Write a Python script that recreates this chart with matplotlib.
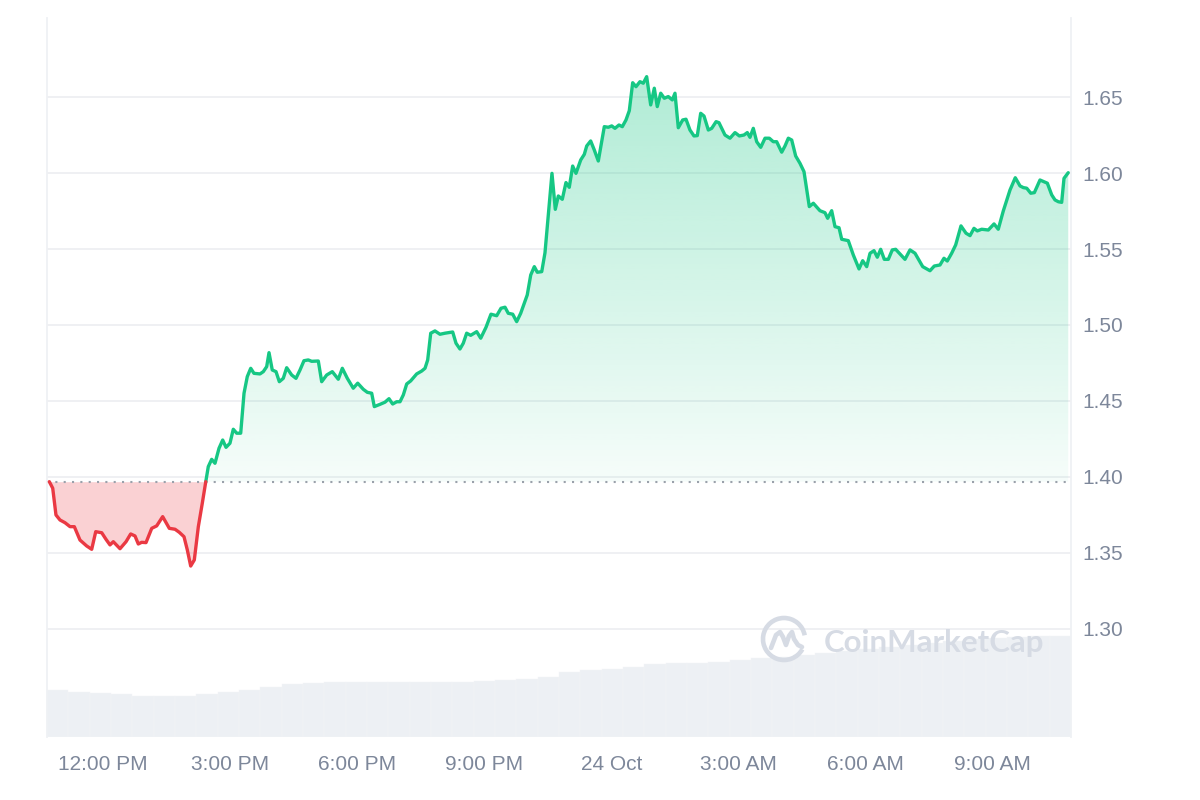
import numpy as np
import matplotlib
matplotlib.use("Agg")
import matplotlib.pyplot as plt
from matplotlib.colors import LinearSegmentedColormap
from matplotlib.patches import Arc
from matplotlib.lines import Line2D
from matplotlib.path import Path

# ---------------- data ----------------
# time in minutes after 12:00 PM, 23 Oct
minutes = [-76.0, -71.2, -66.6, -60.9, -53.8, -46.7, -40.6, -32.6, -23.1, -16.0, -10.3, -1.8, 4.2, 9.9,
           14.6, 24.1, 32.6, 39.2, 45.3, 50.0, 54.8, 60.9, 69.0, 76.0, 84.5, 93.9, 102.0, 108.0, 114.7,
           119.4, 124.2, 129.3, 135.0, 140.6, 145.4,
           149.1, 153.9, 158.6, 164.3, 169.5, 174.2, 179.8, 184.5, 189.3, 195.0, 199.7, 204.3, 209.2, 213.8,
           222.3, 227.0, 231.8, 235.1, 239.7, 245.0, 249.7, 255.3, 260.1, 267.2, 273.3, 279.0,
           284.6, 290.7, 295.5, 304.9, 309.7, 316.8, 324.7, 333.2, 338.9, 346.0, 354.4, 360.7, 368.6, 374.3,
           380.5, 384.2, 392.3, 399.3, 405.0, 410.2, 415.9, 420.6, 425.3, 430.1, 435.7, 444.2, 451.3, 456.0,
           459.8, 464.1, 470.1, 477.2, 484.3, 495.2, 499.9, 505.5, 510.2, 515.0, 520.7, 529.2, 534.9, 542.4,
           549.4, 557.5, 563.6, 569.3, 573.9, 580.2, 585.8, 591.5, 600.8, 605.7, 610.8, 615.0, 621.3, 625.9,
           635.8, 640.5, 644.8, 650.4, 655.6, 660.3, 665.1, 669.8, 676.5, 681.6, 685.0, 690.6, 695.7, 701.4,
           709.9, 715.6, 720.4, 725.0, 730.7, 735.4, 740.6, 745.3, 750.1, 754.8, 760.4, 765.1, 769.9, 775.6,
           780.7, 784.9, 789.8, 794.9, 800.5, 806.2, 810.0, 814.7, 820.9, 825.6, 831.2, 836.9, 841.6, 846.4,
           851.1, 857.2, 862.0, 868.2, 872.3, 880.8, 887.9, 895.0, 901.1, 907.7, 912.4, 916.2, 920.9, 925.7,
           931.4, 937.5, 943.6, 949.2, 954.0, 961.1, 965.8, 970.5, 975.3, 980.9, 987.0, 992.7, 1000.2, 1005.9,
           1015.3, 1022.4, 1026.2, 1031.9, 1036.6, 1042.3, 1046.1, 1055.4, 1062.5, 1070.6, 1075.8, 1081.5,
           1086.2, 1091.8, 1096.5, 1101.3, 1106.4, 1112.1, 1117.7, 1122.5, 1135.7, 1142.8, 1149.9, 1160.8,
           1171.1, 1177.2, 1185.3, 1190.9, 1195.6, 1201.8, 1207.5, 1215.0, 1222.1, 1227.8, 1233.4, 1238.1,
           1244.3, 1253.7, 1261.8, 1267.8, 1274.9, 1284.4, 1291.9, 1298.6, 1303.3, 1308.1, 1313.8, 1318.9,
           1326.9, 1337.3, 1343.5, 1348.1, 1352.9, 1357.6, 1360.9, 1366.9]

prices = [1.3969, 1.3926, 1.3750, 1.3717, 1.3699, 1.3673, 1.3673, 1.3585, 1.3546, 1.3524, 1.3640, 1.3633,
          1.3590, 1.3553, 1.3574, 1.3528, 1.3574, 1.3625, 1.3612, 1.3559, 1.3570, 1.3568, 1.3662, 1.3678,
          1.3739, 1.3662, 1.3656, 1.3636, 1.3607, 1.3520, 1.3414, 1.3454, 1.3673, 1.3827, 1.3965,
          1.4068, 1.4116, 1.4090, 1.4189, 1.4243, 1.4195, 1.4222, 1.4314, 1.4288, 1.4288, 1.4551, 1.4660,
          1.4715, 1.4682, 1.4678, 1.4693, 1.4726, 1.4818, 1.4704, 1.4693, 1.4627, 1.4649, 1.4719, 1.4671,
          1.4649, 1.4704,
          1.4765, 1.4770, 1.4761, 1.4763, 1.4627, 1.4671, 1.4693, 1.4643, 1.4715, 1.4649, 1.4584, 1.4617,
          1.4577, 1.4557, 1.4551, 1.4463, 1.4478, 1.4492, 1.4515, 1.4480, 1.4495, 1.4495, 1.4540, 1.4612,
          1.4632, 1.4678, 1.4697, 1.4715, 1.4770, 1.4946, 1.4961, 1.4939, 1.4946, 1.4954, 1.4880, 1.4842,
          1.4880, 1.4946, 1.4932, 1.4956, 1.4913, 1.4985, 1.5071, 1.5061, 1.5110, 1.5117, 1.5077, 1.5071,
          1.5022, 1.5077, 1.5198, 1.5329, 1.5384, 1.5347, 1.5351, 1.5475, 1.5998, 1.5761, 1.5849, 1.5827,
          1.5937, 1.5906, 1.6046, 1.5998, 1.6086, 1.6123, 1.6178, 1.6211, 1.6152, 1.6079, 1.6305, 1.6301,
          1.6310, 1.6294, 1.6316, 1.6305, 1.6349, 1.6410, 1.6594, 1.6568, 1.6601, 1.6591, 1.6634, 1.6448,
          1.6558, 1.6437, 1.6525, 1.6492, 1.6503, 1.6481, 1.6525, 1.6298, 1.6349, 1.6354, 1.6283, 1.6244,
          1.6246, 1.6393, 1.6375, 1.6283, 1.6294, 1.6338, 1.6331, 1.6250, 1.6229, 1.6266, 1.6244, 1.6250,
          1.6266, 1.6235, 1.6294, 1.6206, 1.6169, 1.6229, 1.6229, 1.6206, 1.6206, 1.6137, 1.6178, 1.6229,
          1.6217, 1.6112, 1.6064, 1.6009, 1.5779, 1.5801, 1.5752, 1.5739, 1.5702, 1.5752, 1.5647, 1.5640,
          1.5564, 1.5555, 1.5461, 1.5369, 1.5423, 1.5384, 1.5472, 1.5489, 1.5446, 1.5498, 1.5432, 1.5432,
          1.5494, 1.5498, 1.5432, 1.5494, 1.5472, 1.5384, 1.5357, 1.5388, 1.5395, 1.5439, 1.5421, 1.5472,
          1.5527, 1.5652, 1.5604, 1.5588, 1.5636, 1.5619, 1.5630, 1.5625, 1.5665, 1.5630, 1.5750, 1.5888,
          1.5969, 1.5915, 1.5904, 1.5900, 1.5867, 1.5871, 1.5954, 1.5933, 1.5856, 1.5823, 1.5811, 1.5807,
          1.5965, 1.6002]

# volume (arbitrary units), one value per ~30-minute slot across the window
volume = [47, 45, 44, 43, 41, 41, 41, 43, 45, 47, 50, 53, 54, 55, 55, 55, 55, 55, 55, 55, 56, 57, 58, 60,
          65, 67, 68, 70, 73, 74, 74, 75, 76, 78, 79, 81, 83, 85, 87, 89, 91, 93, 95, 97, 98, 99, 100, 100]

tick_minutes = [0, 180, 360, 540, 720, 900, 1080, 1260]
tick_labels = ["12:00 PM", "3:00 PM", "6:00 PM", "9:00 PM", "24 Oct", "3:00 AM", "6:00 AM", "9:00 AM"]
price_ticks = [1.30, 1.35, 1.40, 1.45, 1.50, 1.55, 1.60, 1.65]

assert len(minutes) == len(prices)

# ---------------- styling ----------------
GREEN = "#16c784"
RED = "#ea3943"
GRID = "#eceef1"
LABEL = "#7d879a"
plt.rcParams['font.family'] = ['Liberation Sans', 'DejaVu Sans']

W, H = 1200, 800
fig = plt.figure(figsize=(12, 8), dpi=100)
rect = [47 / W, 1 - 737 / H, (1071 - 47) / W, (737 - 18) / H]

xmin, xmax = -79.3, 1370.8
ymin, ymax = 1.2289, 1.7020

# volume axes (behind)
axv = fig.add_axes(rect, zorder=0)
edges = np.linspace(xmin, xmax, len(volume) + 1)
axv.bar(edges[:-1], volume, width=np.diff(edges), align='edge', color='#edf0f4',
        edgecolor='#f3f5f8', linewidth=0.3)
axv.set_xlim(xmin, xmax)
axv.set_ylim(0, max(volume) / 0.14)
axv.axis('off')

# price axes
ax = fig.add_axes(rect, zorder=1)
ax.patch.set_alpha(0)

t = np.array(minutes, float)
p = np.array(prices, float)
base = p[0]

# insert crossing points
tt, pp = [t[0]], [p[0]]
for i in range(1, len(t)):
    d0, d1 = p[i - 1] - base, p[i] - base
    if d0 * d1 < 0:
        f = d0 / (d0 - d1)
        tt.append(t[i - 1] + f * (t[i] - t[i - 1]))
        pp.append(base)
    tt.append(t[i])
    pp.append(p[i])
tt = np.array(tt)
pp = np.array(pp)

# red fill
ax.fill_between(tt, pp, base, where=pp <= base, interpolate=True, color=RED, alpha=0.23,
                linewidth=0, zorder=1)
# green gradient fill
green_poly = ax.fill_between(tt, pp, base, where=pp >= base, interpolate=True, color='none',
                             linewidth=0, zorder=1)
cmap = LinearSegmentedColormap.from_list(
    'g', [(22 / 255, 199 / 255, 132 / 255, 0.04), (22 / 255, 199 / 255, 132 / 255, 0.38)])
grad = np.linspace(0, 1, 256).reshape(-1, 1)
im = ax.imshow(grad, extent=[xmin, xmax, base, ymax], origin='lower', aspect='auto', cmap=cmap,
               zorder=1, interpolation='bilinear')
paths = green_poly.get_paths()
clip = Path.make_compound_path(*paths)
im.set_clip_path(clip, transform=ax.transData)

# baseline
ax.axhline(base, color='#9aa1ab', lw=1.5, ls=(0, (1, 3)), zorder=2)

up = np.ma.masked_where(pp < base, pp)
dn = np.ma.masked_where(pp > base, pp)
ax.plot(tt, up, color=GREEN, lw=2.4, solid_joinstyle='round', solid_capstyle='round', zorder=3)
ax.plot(tt, dn, color=RED, lw=2.4, solid_joinstyle='round', solid_capstyle='round', zorder=3)

ax.set_xlim(xmin, xmax)
ax.set_ylim(ymin, ymax)

ax.set_yticks(price_ticks)
ax.set_yticklabels([f"{v:.2f}" for v in price_ticks])
ax.yaxis.tick_right()
ax.set_xticks(tick_minutes)
ax.set_xticklabels(tick_labels)
ax.tick_params(axis='y', length=0, pad=8, labelsize=15, labelcolor=LABEL)
ax.tick_params(axis='x', length=0, pad=13, labelsize=15, labelcolor=LABEL)
ax.grid(axis='y', color=GRID, lw=1.2, zorder=0)
ax.set_axisbelow(True)
for s in ['top', 'bottom']:
    ax.spines[s].set_visible(False)
for s in ['left', 'right']:
    ax.spines[s].set_color('#eff1f4')
    ax.spines[s].set_linewidth(1.3)

# watermark
WM = '#d6dbe4'
fig.text(824 / W, 1 - 652 / H, 'CoinMarketCap', fontsize=22.5, fontweight='bold', family='Lato',
         color=WM, ha='left', va='baseline', zorder=5)
cx, cy, r = 784, 639, 21
arc = Arc((cx / W, 1 - cy / H), 2 * r / W, 2 * r / H, theta1=15, theta2=320,
          transform=fig.transFigure, color=WM, lw=3.3, zorder=5)
fig.add_artist(arc)
mx = np.array([-13, -8, -4, -1, 2, 5, 8, 10, 14, 18])
my = np.array([-9, 4, 7, 2, -6, 3, 7, 0, -6, -8])
fig.add_artist(Line2D((cx + mx) / W, 1 - (cy - my) / H, transform=fig.transFigure, color=WM,
                      lw=3.3, solid_joinstyle='round', solid_capstyle='round', zorder=5))

fig.savefig('out.png', dpi=100)
